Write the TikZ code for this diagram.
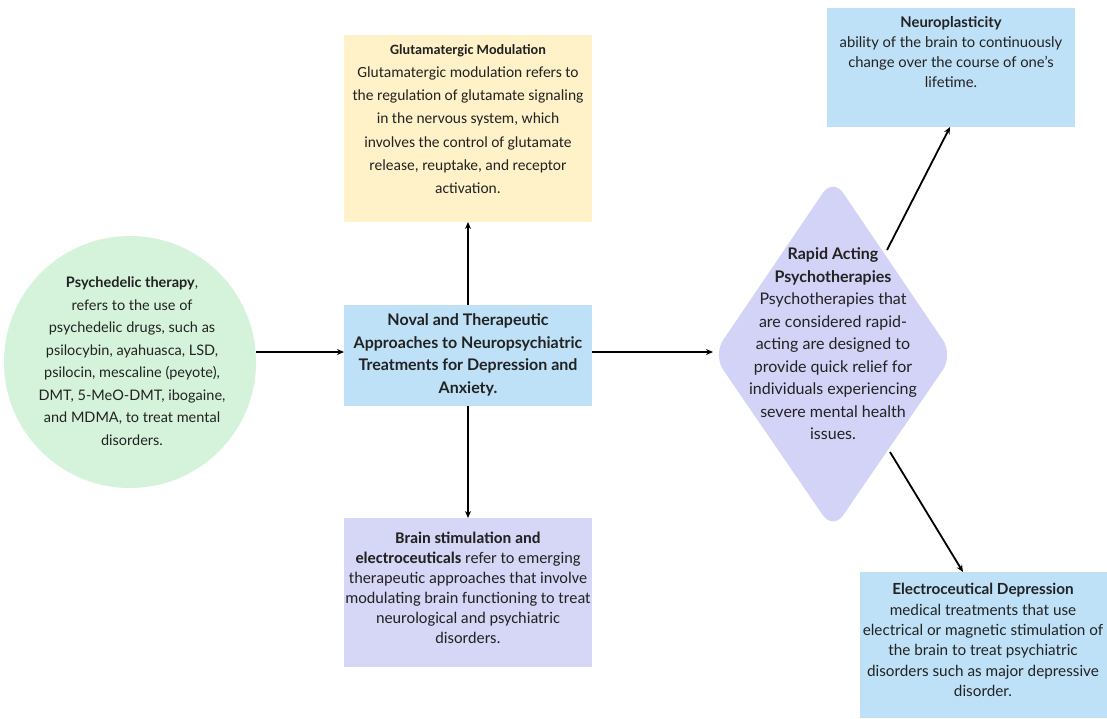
\documentclass[tikz,border=0pt]{standalone}
\usepackage{fontspec}
\setmainfont{Lato}
\newfontfamily\calfont{Carlito}
\usetikzlibrary{shapes.geometric,arrows.meta}
\definecolor{cgreen}{HTML}{D5F3DA}
\definecolor{cyellow}{HTML}{FFF2C8}
\definecolor{cblue}{HTML}{BEE1F8}
\definecolor{clav}{HTML}{D6D7F6}
\definecolor{cdia}{HTML}{D2D3F6}
\definecolor{ctext}{HTML}{222222}
\tikzset{
  conn/.style={line width=1.8pt, -{Stealth[length=7pt,width=6pt]}, black},
  card/.style={inner sep=0pt, text=ctext},
}
\begin{document}
\begin{tikzpicture}[x=1pt,y=-1pt]
\useasboundingbox (0,0) rectangle (1107,718);
\fill[white] (0,0) rectangle (1107,718);
% shapes
\fill[cgreen] (130,362) circle (126);
\fill[cyellow] (344,35) rectangle (592,222);
\fill[cblue] (344,305) rectangle (592,406);
\fill[clav] (344,518) rectangle (592,667);
\fill[cblue] (827,8) rectangle (1075,127);
\fill[cblue] (860,572) rectangle (1107,718);
\fill[cdia, rounded corners=18pt] (833,178) -- (953,355) -- (833,530) -- (713,355) -- cycle;
% anchors
\coordinate (circR) at (256,352);
\coordinate (novL) at (344,352);
\coordinate (novT) at (468,305);
\coordinate (novB) at (468,406);
\coordinate (novR) at (592,352);
\coordinate (gluB) at (468,222);
\coordinate (briT) at (468,518);
\coordinate (diaL) at (713,352);
\coordinate (diaTR) at (887,250);
\coordinate (neuB) at (950,127);
\coordinate (diaBR) at (890,452);
\coordinate (eleT) at (963,572);
% texts
\node[card, align=center, font={\fontsize{14.5}{22.5}\selectfont}] (psy) at (132,361)
 {\textbf{Psychedelic therapy},\\refers to the use of\\psychedelic drugs, such as\\psilocybin, ayahuasca, LSD,\\psilocin, mescaline (peyote),\\DMT, 5-MeO-DMT, ibogaine,\\and MDMA, to treat mental\\disorders.};
\node[card, align=center, font={\calfont\fontsize{15.5}{23.3}\selectfont}] (glu) at (468,119)
 {{\fontsize{14.2}{14}\selectfont\bfseries Glutamatergic Modulation}\\Glutamatergic modulation refers to\\the regulation of glutamate signaling\\in the nervous system, which\\involves the control of glutamate\\release, reuptake, and receptor\\activation.};
\node[card, align=center, font={\bfseries\fontsize{16}{22.5}\selectfont}] (nov) at (468,355)
 {Noval and Therapeutic\\Approaches to Neuropsychiatric\\Treatments for Depression and\\Anxiety.};
\node[card, align=center, font={\calfont\fontsize{16.3}{20}\selectfont}] (bra) at (468,588)
 {\textbf{Brain stimulation and}\\\textbf{electroceuticals} refer to emerging\\therapeutic approaches that involve\\modulating brain functioning to treat\\neurological and psychiatric\\disorders.};
\node[card, align=center, font={\fontsize{16}{22.5}\selectfont}] (rap) at (833,344)
 {\textbf{Rapid Acting}\\\textbf{Psychotherapies}\\Psychotherapies that\\are considered rapid-\\acting are designed to\\provide quick relief for\\individuals experiencing\\severe mental health\\issues.};
\node[card, align=center, font={\fontsize{14.8}{20}\selectfont}] (neu) at (951,52)
 {\textbf{Neuroplasticity}\\ability of the brain to continuously\\change over the course of one's\\lifetime.};
\node[card, align=center, font={\fontsize{15.3}{20.4}\selectfont}] (ele) at (983,640)
 {\textbf{Electroceutical Depression}\\medical treatments that use\\electrical or magnetic stimulation of\\the brain to treat psychiatric\\disorders such as major depressive\\disorder.};
% connectors
\draw[conn] (circR) -- (novL);
\draw[conn] (novT) -- (gluB);
\draw[conn] (novB) -- (briT);
\draw[conn] (novR) -- (diaL);
\draw[conn] (diaTR) -- (neuB);
\draw[conn] (diaBR) -- (eleT);
\end{tikzpicture}
\end{document}
